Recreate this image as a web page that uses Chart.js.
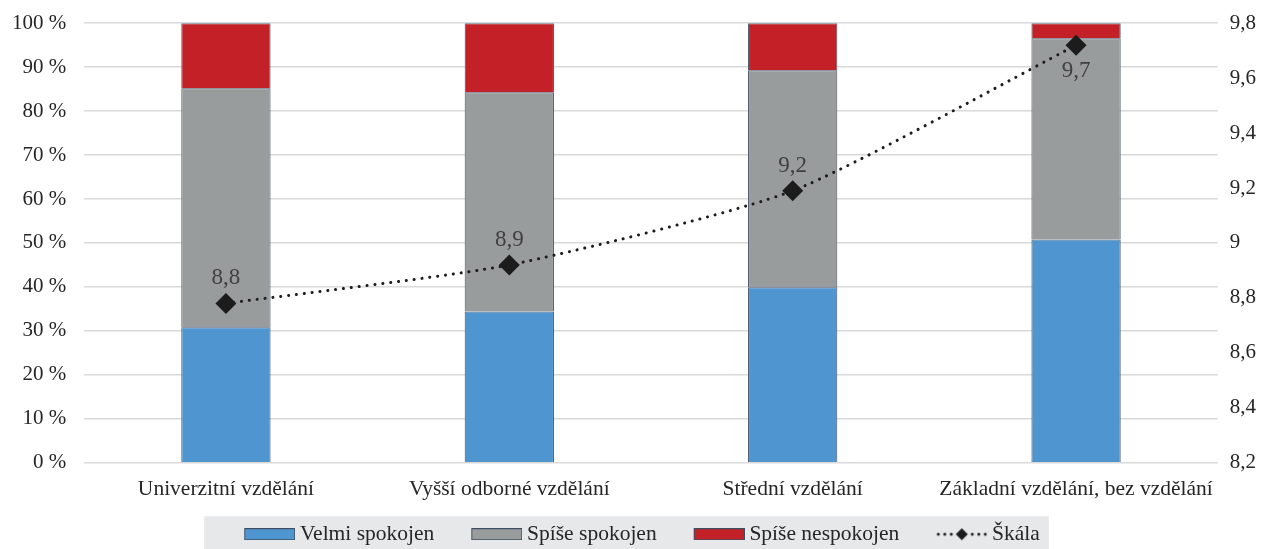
<!DOCTYPE html>
<html>
<head>
<meta charset="utf-8">
<script src="https://cdn.jsdelivr.net/npm/chart.js@4/dist/chart.umd.min.js"></script>
<style>
  html, body { margin: 0; padding: 0; background: #ffffff; }
  #wrap { width: 1263px; height: 549px; }
</style>
</head>
<body>
<div id="wrap"><canvas id="graf"></canvas></div>
<script>
/* ================= DATA ================= */

const kategorie = [
  "Univerzitní vzdělání",
  "Vyšší odborné vzdělání",
  "Střední vzdělání",
  "Základní vzdělání, bez vzdělání"
];
const velmiSpokojen = [30.8, 34.4, 39.9, 50.8];
const spiseSpokojen = [54.4, 49.9, 49.4, 45.8];
const spiseNespokojen = [14.8, 15.7, 10.7, 3.4];
const skala = [8.78, 8.92, 9.19, 9.72];
const skalaPopisky = ["8,8", "8,9", "9,2", "9,7"];

const FONT = "'Liberation Serif', 'Times New Roman', serif";
const TEXT = "#262626";

/* ================= LEGENDA ================= */

// ikona je 79 px široká, viditelná značka je v pravých 51 px (vlevo mezera mezi položkami)
function ikonaBox(barva) {
  const c = document.createElement("canvas");
  c.width = 79; c.height = 12;
  const g = c.getContext("2d");
  g.fillStyle = barva;
  g.fillRect(28, 0, 51, 12);
  g.strokeStyle = "#3f4f63";
  g.lineWidth = 1;
  g.strokeRect(28.5, 0.5, 50, 11);
  return c;
}

function ikonaCara() {
  const c = document.createElement("canvas");
  c.width = 79; c.height = 14;
  const g = c.getContext("2d");
  g.fillStyle = "#1c1c1c";
  [30, 36.5, 43, 64, 70.5, 77].forEach(x => {
    g.beginPath(); g.arc(x, 7, 1.5, 0, Math.PI * 2); g.fill();
  });
  g.beginPath();
  g.moveTo(53.5, 1); g.lineTo(59.5, 7); g.lineTo(53.5, 13); g.lineTo(47.5, 7);
  g.closePath(); g.fill();
  return c;
}

const pozadiLegendy = {
  id: "pozadiLegendy",
  beforeDraw(chart) {
    const lg = chart.legend;
    if (!lg || !lg.legendHitBoxes.length) return;
    const boxy = lg.legendHitBoxes;
    const l = Math.min(...boxy.map(b => b.left)) - 18;
    const r = Math.max(...boxy.map(b => b.left + b.width)) + 9;
    const t = boxy[0].top + boxy[0].height / 2 - 18;
    const ctx = chart.ctx;
    ctx.save();
    ctx.fillStyle = "#e7e8e9";
    ctx.fillRect(l, t, r - l, chart.height - t);
    ctx.restore();
  }
};

const popisky = {
  id: "popisky",
  afterDatasetsDraw(chart) {
    const meta = chart.getDatasetMeta(3);
    const ctx = chart.ctx;
    ctx.save();
    ctx.font = "23px " + FONT;
    ctx.fillStyle = "#404040";
    ctx.textAlign = "center";
    ctx.textBaseline = "middle";
    meta.data.forEach((p, i) => {
      const dy = i === 3 ? 26 : -25;
      ctx.fillText(skalaPopisky[i], p.x, p.y + dy);
    });
    ctx.restore();
  }
};

/* ================= GRAF ================= */

const spolecneBar = {
  type: "bar",
  borderColor: "#3f4f63",
  borderWidth: 1,
  categoryPercentage: 1,
  barPercentage: 0.315,
  yAxisID: "y",
  order: 2
};

new Chart(document.getElementById("graf"), {
  data: {
    labels: kategorie,
    datasets: [
      { ...spolecneBar, label: "Velmi spokojen", data: velmiSpokojen, backgroundColor: "#4f96d1" },
      { ...spolecneBar, label: "Spíše spokojen", data: spiseSpokojen, backgroundColor: "#999c9d" },
      { ...spolecneBar, label: "Spíše nespokojen", data: spiseNespokojen, backgroundColor: "#c32127" },
      {
        type: "line",
        label: "Škála",
        data: skala,
        yAxisID: "y2",
        borderColor: "#1c1c1c",
        borderWidth: 3,
        borderDash: [0.1, 7.8],
        borderCapStyle: "round",
        pointStyle: "rectRot",
        pointRadius: 10.5,
        pointBackgroundColor: "#1c1c1c",
        pointBorderColor: "#1c1c1c",
        pointBorderWidth: 0,
        tension: 0.2,
        order: 1
      }
    ]
  },
  options: {
    responsive: true,
    maintainAspectRatio: false,
    animation: false,
    layout: { padding: { left: -6, right: -5, top: 23, bottom: -6 } },
    scales: {
      x: {
        stacked: true,
        grid: { display: false },
        border: { display: false },
        ticks: {
          color: TEXT,
          font: { family: FONT, size: 21.5 },
          padding: 6,
          maxRotation: 0,
          minRotation: 0,
          autoSkip: false
        }
      },
      y: {
        stacked: true,
        min: 0,
        max: 100,
        ticks: {
          stepSize: 10,
          color: TEXT,
          font: { family: FONT, size: 21, lineHeight: 0.5 },
          padding: 18,
          callback: v => v + " %"
        },
        grid: { color: "#d9d9d9", lineWidth: 1.6, drawTicks: false },
        border: { display: false }
      },
      y2: {
        position: "right",
        min: 8.2,
        max: 9.8,
        ticks: {
          stepSize: 0.2,
          color: TEXT,
          font: { family: FONT, size: 21, lineHeight: 0.5 },
          padding: 12,
          callback: v => String(Number(v.toFixed(1))).replace(".", ",")
        },
        grid: { display: false, drawTicks: false },
        border: { display: false }
      }
    },
    plugins: {
      legend: {
        position: "bottom",
        labels: {
          usePointStyle: true,
          pointStyleWidth: 67,
          color: TEXT,
          font: { family: FONT, size: 21.5 },
          padding: 15,
          generateLabels: chart => chart.data.datasets.map((d, i) => ({
            text: d.label,
            datasetIndex: i,
            fontColor: TEXT,
            pointStyle: i === 3 ? ikonaCara() : ikonaBox(d.backgroundColor),
            lineWidth: 0,
            hidden: false
          }))
        }
      },
      tooltip: { enabled: false }
    }
  },
  plugins: [pozadiLegendy, popisky]
});
</script>
</body>
</html>
